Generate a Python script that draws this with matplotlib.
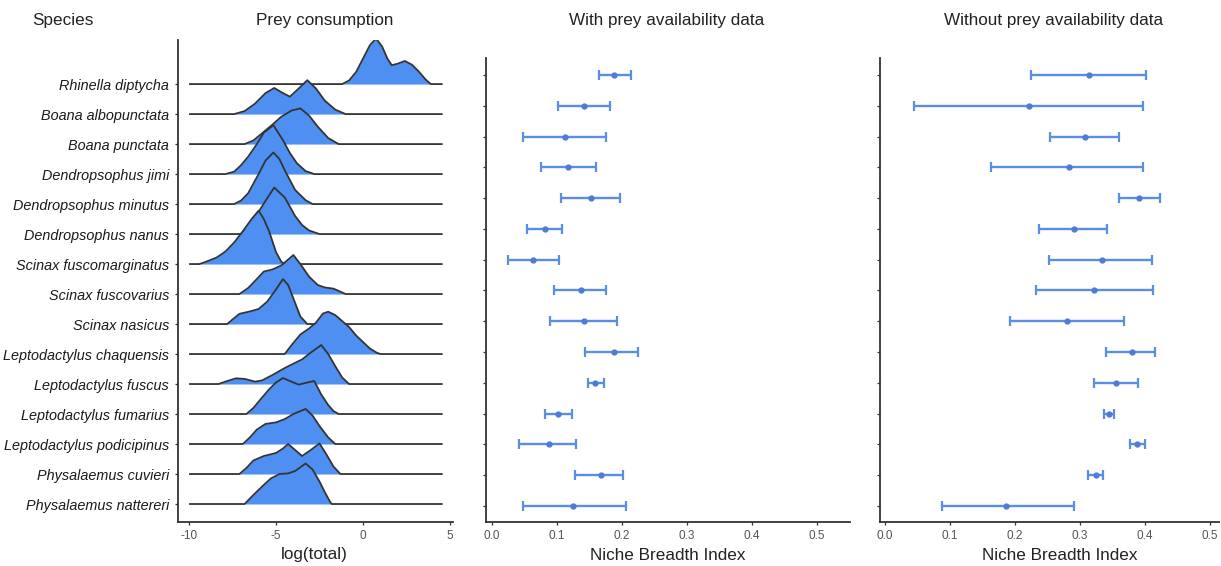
"""Prey consumption ridgelines and niche breadth index (with / without prey availability)."""
import matplotlib
matplotlib.use("Agg")
import matplotlib.pyplot as plt

plt.rcParams["font.family"] = ["Liberation Sans", "DejaVu Sans"]
plt.rcParams["axes.unicode_minus"] = False

SPECIES = ["Rhinella diptycha", "Boana albopunctata", "Boana punctata", "Dendropsophus jimi",
           "Dendropsophus minutus", "Dendropsophus nanus", "Scinax fuscomarginatus",
           "Scinax fuscovarius", "Scinax nasicus", "Leptodactylus chaquensis",
           "Leptodactylus fuscus", "Leptodactylus fumarius", "Leptodactylus podicipinus",
           "Physalaemus cuvieri", "Physalaemus nattereri"]

# density profiles of log(total) (x, height in row units)
RHINELLA_X = [-1.2, -0.8, -0.4, 0.0, 0.4, 0.75, 1.1, 1.4, 1.65, 2.0, 2.4, 2.8, 3.2, 3.6, 3.9]
RHINELLA_H = [0, 0.12, 0.4, 0.85, 1.3, 1.52, 1.25, 0.85, 0.63, 0.68, 0.77, 0.65, 0.42, 0.15, 0]
B_ALBO_X = [-7.4, -6.8, -6.2, -5.6, -5.1, -4.6, -4.2, -3.7, -3.2, -2.7, -2.2, -1.6, -1.0]
B_ALBO_H = [0, 0.1, 0.35, 0.7, 0.87, 0.7, 0.58, 0.85, 1.13, 0.85, 0.45, 0.15, 0]
B_PUNC_X = [-6.8, -6.3, -5.8, -5.2, -4.7, -4.1, -3.6, -3.1, -2.6, -2.0, -1.4]
B_PUNC_H = [0, 0.12, 0.36, 0.65, 0.91, 1.12, 1.19, 0.95, 0.58, 0.2, 0]
D_JIMI_X = [-7.9, -7.4, -7.0, -6.6, -6.1, -5.7, -5.15, -4.6, -4.2, -3.8, -3.3, -2.8]
D_JIMI_H = [0, 0.08, 0.3, 0.58, 1.0, 1.38, 1.63, 1.13, 0.7, 0.36, 0.1, 0]
D_MIN_X = [-7.4, -7.0, -6.6, -6.0, -5.6, -5.15, -4.8, -4.5, -3.9, -3.3, -2.9]
D_MIN_H = [0, 0.12, 0.36, 1.0, 1.45, 1.72, 1.5, 1.13, 0.47, 0.13, 0]
D_NAN_X = [-7.0, -6.6, -6.2, -5.6, -5.1, -4.5, -3.9, -3.5, -3.1, -2.5]
D_NAN_H = [0, 0.2, 0.55, 1.11, 1.55, 1.22, 0.6, 0.3, 0.12, 0]
S_FMARG_X = [-9.4, -9.0, -8.4, -7.9, -7.4, -6.9, -6.4, -6.0, -5.7, -5.4, -5.0, -4.7, -4.5]
S_FMARG_H = [0, 0.08, 0.22, 0.42, 0.72, 1.1, 1.5, 1.78, 1.5, 1.1, 0.4, 0.08, 0]
S_FVAR_X = [-7.1, -6.6, -6.1, -5.7, -5.2, -4.7, -4.0, -3.6, -3.1, -2.6, -2.2, -1.7, -1.3, -1.0]
S_FVAR_H = [0, 0.2, 0.5, 0.75, 0.82, 0.95, 1.3, 1.0, 0.58, 0.3, 0.22, 0.18, 0.08, 0]
S_NAS_X = [-7.8, -7.5, -7.1, -6.5, -6.0, -5.5, -5.0, -4.6, -4.3, -4.0, -3.6, -3.2]
S_NAS_H = [0, 0.15, 0.34, 0.42, 0.5, 0.75, 1.15, 1.5, 1.3, 0.85, 0.25, 0]
L_CHAQ_X = [-4.5, -4.1, -3.6, -3.1, -2.7, -2.3, -2.0, -1.6, -1.2, -0.8, -0.4, 0.0, 0.4, 0.8, 1.0]
L_CHAQ_H = [0, 0.3, 0.65, 0.85, 1.05, 1.35, 1.41, 1.3, 1.1, 0.9, 0.62, 0.4, 0.18, 0.04, 0]
L_FUSC_X = [-8.3, -7.8, -7.3, -6.8, -6.2, -5.8, -5.2, -4.6, -4.0, -3.5, -3.0, -2.4, -2.0, -1.6, -1.2, -0.8]
L_FUSC_H = [0, 0.1, 0.19, 0.17, 0.08, 0.12, 0.3, 0.5, 0.68, 0.82, 1.05, 1.3, 1.0, 0.6, 0.22, 0]
L_FUM_X = [-6.7, -6.3, -5.9, -5.4, -5.0, -4.6, -4.2, -3.7, -3.2, -2.8, -2.4, -2.0, -1.7, -1.4]
L_FUM_H = [0, 0.2, 0.48, 0.82, 1.05, 1.2, 1.1, 0.98, 1.05, 1.1, 0.65, 0.3, 0.1, 0]
L_POD_X = [-6.9, -6.5, -6.1, -5.6, -5.0, -4.5, -4.0, -3.3, -2.9, -2.5, -2.0, -1.6]
L_POD_H = [0, 0.22, 0.48, 0.67, 0.72, 0.83, 1.0, 1.17, 0.95, 0.6, 0.22, 0]
P_CUV_X = [-7.1, -6.7, -6.3, -5.7, -5.0, -4.6, -4.3, -3.9, -3.5, -3.0, -2.5, -2.1, -1.7, -1.3]
P_CUV_H = [0, 0.2, 0.45, 0.6, 0.7, 0.85, 1.0, 0.8, 0.6, 0.8, 1.02, 0.65, 0.25, 0]
P_NAT_X = [-6.8, -6.3, -5.8, -5.3, -4.8, -4.3, -3.9, -3.3, -2.9, -2.5, -2.2, -1.9, -1.8]
P_NAT_H = [0, 0.3, 0.58, 0.85, 1.0, 1.02, 1.1, 1.35, 1.15, 0.75, 0.4, 0.08, 0]
DATA_MIN, DATA_MAX = -9.94, 4.52

# niche breadth index: mean and interval, same species order
WITH_MEAN = [0.188, 0.142, 0.113, 0.117, 0.152, 0.082, 0.063, 0.137, 0.142, 0.187, 0.158, 0.102, 0.088, 0.168, 0.125]
WITH_LOW = [0.164, 0.101, 0.048, 0.076, 0.106, 0.054, 0.024, 0.096, 0.089, 0.143, 0.147, 0.081, 0.041, 0.128, 0.048]
WITH_HIGH = [0.214, 0.181, 0.176, 0.160, 0.197, 0.107, 0.103, 0.176, 0.193, 0.224, 0.172, 0.123, 0.129, 0.202, 0.206]
WITHOUT_MEAN = [0.314, 0.222, 0.308, 0.283, 0.390, 0.291, 0.334, 0.322, 0.280, 0.380, 0.355, 0.344, 0.387, 0.325, 0.186]
WITHOUT_LOW = [0.225, 0.044, 0.254, 0.163, 0.360, 0.237, 0.253, 0.233, 0.193, 0.340, 0.321, 0.337, 0.377, 0.313, 0.087]
WITHOUT_HIGH = [0.402, 0.397, 0.360, 0.397, 0.423, 0.342, 0.411, 0.413, 0.367, 0.415, 0.389, 0.353, 0.400, 0.336, 0.291]

RIDGES = [(RHINELLA_X, RHINELLA_H), (B_ALBO_X, B_ALBO_H), (B_PUNC_X, B_PUNC_H),
          (D_JIMI_X, D_JIMI_H), (D_MIN_X, D_MIN_H), (D_NAN_X, D_NAN_H),
          (S_FMARG_X, S_FMARG_H), (S_FVAR_X, S_FVAR_H), (S_NAS_X, S_NAS_H),
          (L_CHAQ_X, L_CHAQ_H), (L_FUSC_X, L_FUSC_H), (L_FUM_X, L_FUM_H),
          (L_POD_X, L_POD_H), (P_CUV_X, P_CUV_H), (P_NAT_X, P_NAT_H)]

FILL = "#4f8ff2"
EDGE = "#333333"
BAR = "#5b8de3"
AXC = "#333333"
TICKC = "#555555"

W, H = 1221, 566
fig = plt.figure(figsize=(W / 100, H / 100), dpi=100)


def box(x0, y0, x1, y1):
    return [x0 / W, 1 - y1 / H, (x1 - x0) / W, (y1 - y0) / H]


def style(ax):
    for s in ("top", "right"):
        ax.spines[s].set_visible(False)
    for s in ("left", "bottom"):
        ax.spines[s].set_color(AXC)
        ax.spines[s].set_linewidth(1.3)
    ax.tick_params(colors=AXC, length=2.5, width=0.9, labelcolor=TICKC, labelsize=8.5, pad=3)


n = len(SPECIES)
ypos = [n - i for i in range(n)]  # Rhinella on top

# ---- ridgelines
ax0 = fig.add_axes(box(178, 40, 453, 522))
style(ax0)
for i, (xs, hs) in enumerate(RIDGES):
    y0 = ypos[i]
    px = [DATA_MIN] + list(xs) + [DATA_MAX]
    py = [y0] + [y0 + h for h in hs] + [y0]
    ax0.fill_between(xs, y0, [y0 + h for h in hs], color=FILL, lw=0, zorder=2 + 2 * i)
    ax0.plot(px, py, color=EDGE, lw=1.3, zorder=3 + 2 * i, solid_joinstyle="round")
ax0.set_xlim(-10.63, 5.17)
ax0.set_ylim(0.4, 16.47)
ax0.set_xticks([-10, -5, 0, 5])
ax0.set_yticks(ypos)
ax0.set_yticklabels(SPECIES, fontsize=10.4, style="italic", color="#1a1a1a")
ax0.tick_params(axis="y", pad=4)

# ---- niche breadth panels (pixel span of axes, pixel of x=0)
for (x0, x1, zero), mean, lo, hi in [((486, 850, 492), WITH_MEAN, WITH_LOW, WITH_HIGH),
                                     ((880, 1219, 885), WITHOUT_MEAN, WITHOUT_LOW, WITHOUT_HIGH)]:
    ax = fig.add_axes(box(x0, 58, x1, 522))
    style(ax)
    err = [[m - l for m, l in zip(mean, lo)], [h - m for m, h in zip(mean, hi)]]
    ax.errorbar(mean, ypos, xerr=err, fmt="o", ms=3.5, color=BAR, mfc="#4f7ad6", mec="#4f7ad6",
                ecolor=BAR, elinewidth=1.7, capsize=3.5, capthick=1.6)
    ax.set_xlim((x0 - zero) / 650, (x1 - zero) / 650)
    ax.set_ylim(0.48, 15.55)
    ax.set_xticks([0.0, 0.1, 0.2, 0.3, 0.4, 0.5])
    ax.set_xticklabels(["0.0", "0.1", "0.2", "0.3", "0.4", "0.5"])
    ax.set_yticks(ypos)
    ax.set_yticklabels([])

# ---- headers and axis titles
hdr = dict(fontsize=12.3, color="#222222", ha="center", va="center")
fig.text(63 / W, 1 - 20 / H, "Species", **hdr)
fig.text(325 / W, 1 - 20 / H, "Prey consumption", **hdr)
fig.text(667 / W, 1 - 20 / H, "With prey availability data", **hdr)
fig.text(1054 / W, 1 - 20 / H, "Without prey availability data", **hdr)
fig.text(314 / W, 1 - 555 / H, "log(total)", **hdr)
fig.text(668 / W, 1 - 555 / H, "Niche Breadth Index", **hdr)
fig.text(1060 / W, 1 - 555 / H, "Niche Breadth Index", **hdr)

fig.savefig("out.png", dpi=100)
